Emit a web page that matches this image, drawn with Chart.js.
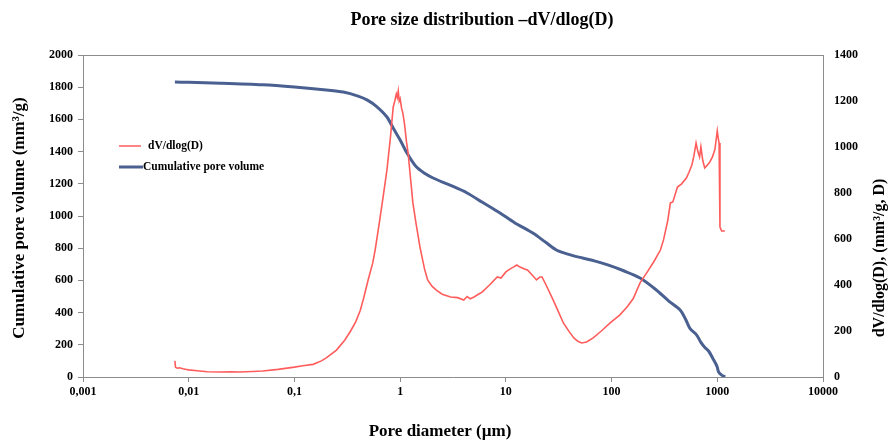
<!DOCTYPE html>
<html>
<head>
<meta charset="utf-8">
<script src="https://cdn.jsdelivr.net/npm/chart.js@4.4.1/dist/chart.umd.min.js"></script>
<style>
  html, body { margin: 0; padding: 0; background: #fff; }
  #wrap { width: 893px; height: 444px; }
</style>
</head>
<body>
<div id="wrap"><canvas id="myChart" width="893" height="444"></canvas></div>
<script>
// x axis ticks (log)
const xTickValues = [0.001, 0.01, 0.1, 1, 10, 100, 1000, 10000];
const xTickLabels = ['0,001', '0,01', '0,1', '1', '10', '100', '1000', '10000'];

// dV/dlog(D) - right axis
const dvDiam = [0.0074, 0.0075, 0.0078, 0.0082, 0.0088, 0.0095, 0.010, 0.012, 0.015, 0.02, 0.025, 0.03, 0.04, 0.05, 0.07,
  0.1, 0.12, 0.15, 0.18, 0.2, 0.25, 0.3, 0.34, 0.38, 0.42, 0.45, 0.5, 0.55, 0.58, 0.64, 0.69, 0.75, 0.81, 0.86, 0.89,
  0.92, 0.94, 0.96, 0.98, 1.0, 1.03, 1.06, 1.1, 1.15, 1.19, 1.25, 1.32, 1.4, 1.54, 1.7, 1.82, 2.0, 2.2, 2.5, 3.0,
  3.5, 4.0, 4.3, 4.6, 5.0, 5.5, 6.0, 7.0, 8.3, 9.0, 10, 11, 12, 12.7, 13.6, 15, 16, 18, 19.5, 21, 22, 24, 28, 31,
  35, 40, 44, 48, 52, 58, 67, 80, 97, 120, 140, 160, 186, 218, 250, 290, 310, 340, 360, 380, 420, 460, 510, 540,
  575, 600, 630, 655, 680, 700, 730, 760, 800, 850, 900, 950, 1000, 1020, 1040, 1060, 1100, 1180];
const dvValues = [70, 42, 38, 40, 36, 33, 31, 27, 23, 22, 23, 22, 24, 26, 33,
  43, 49, 55, 70, 83, 117, 161, 200, 240, 290, 340, 425, 495, 552, 680, 783, 900, 1043, 1174, 1200,
  1230, 1215, 1243, 1200, 1210, 1170, 1148, 1100, 1020, 974, 870, 757, 680, 565, 470, 422, 395, 378, 360, 348,
  345, 335, 350, 340, 348, 360, 370, 400, 435, 430, 457, 470, 480, 487, 478, 470, 465, 440, 422, 435, 435, 400, 335, 290,
  235, 195, 170, 155, 148, 152, 170, 200, 235, 270, 304, 340, 409, 457, 500, 552, 596, 680, 757, 761, 826, 840, 865, 890,
  922, 960, 1017, 980, 957, 1000, 940, 909, 920, 935, 957, 990, 1070, 1040, 1017, 652, 635, 635];

// cumulative pore volume - left axis
const cumDiam = [0.0074, 0.01, 0.02, 0.05, 0.1, 0.2, 0.29, 0.4, 0.49, 0.6, 0.75, 0.87, 1.0, 1.16, 1.4, 1.7, 2.05, 3.0,
  4.3, 6.0, 8.8, 12, 18, 24, 30, 40, 53, 70, 92, 130, 186, 260, 350, 445, 500, 553, 636, 700, 760, 830, 900, 960,
  1000, 1030, 1100, 1186];
const cumValues = [1832, 1830, 1825, 1815, 1801, 1783, 1770, 1745, 1720, 1680, 1615, 1540, 1472, 1391, 1310, 1265, 1236, 1190,
  1143, 1085, 1019, 960, 894, 835, 789, 760, 739, 720, 696, 660, 615, 545, 470, 416, 360, 300, 262, 215, 185, 160, 120, 87,
  60, 31, 12, 0];

const redColor = '#FF5C5C';
const blueColor = '#4A6091';
const serif = '"Liberation Serif", "Times New Roman", serif';

const toPoints = (xs, ys) => xs.map((x, i) => ({ x: x, y: ys[i] }));

// title, axis titles, legend and plot border
const decorPlugin = {
  id: 'decor',
  afterDraw(chart) {
    const ctx = chart.ctx;
    const a = chart.chartArea;
    ctx.save();
    ctx.strokeStyle = '#8c8c8c';
    ctx.lineWidth = 1;
    ctx.beginPath();
    ctx.moveTo(a.left, a.top + 0.5);
    ctx.lineTo(a.right, a.top + 0.5);
    ctx.stroke();

    ctx.fillStyle = '#000';
    ctx.textAlign = 'center';
    ctx.textBaseline = 'middle';
    ctx.font = 'bold 18px ' + serif;
    ctx.fillText('Pore size distribution \u2013dV/dlog(D)', 482, 20);

    ctx.font = 'bold 17px ' + serif;
    ctx.fillText('Pore diameter (\u00b5m)', 440, 432);

    ctx.save();
    ctx.translate(20, 218);
    ctx.rotate(-Math.PI / 2);
    ctx.fillText('Cumulative pore volume (mm\u00b3/g)', 0, 0);
    ctx.restore();

    ctx.save();
    ctx.font = 'bold 16px ' + serif;
    ctx.translate(880, 258);
    ctx.rotate(-Math.PI / 2);
    ctx.fillText('dV/dlog(D), (mm\u00b3/g, D)', 0, 0);
    ctx.restore();

    // legend
    ctx.textAlign = 'left';
    ctx.font = 'bold 11.5px ' + serif;
    const ds = chart.data.datasets;
    const rows = [{ y: 146, x1: 119, x2: 141, tx: 148 }, { y: 167, x1: 119, x2: 143, tx: 143 }];
    rows.forEach((r, i) => {
      ctx.strokeStyle = ds[i].borderColor;
      ctx.lineWidth = i === 0 ? 1.5 : 3;
      ctx.beginPath();
      ctx.moveTo(r.x1, r.y);
      ctx.lineTo(r.x2, r.y);
      ctx.stroke();
      ctx.fillStyle = '#000';
      ctx.fillText(ds[i].label, r.tx, r.y);
    });
    ctx.restore();
  }
};

const ctx = document.getElementById('myChart').getContext('2d');
new Chart(ctx, {
  type: 'line',
  data: {
    datasets: [{
      label: 'dV/dlog(D)',
      data: toPoints(dvDiam, dvValues),
      yAxisID: 'yR',
      borderColor: redColor,
      borderWidth: 1.6,
      pointRadius: 0,
      tension: 0,
      fill: false
    }, {
      label: 'Cumulative pore volume',
      data: toPoints(cumDiam, cumValues),
      yAxisID: 'yL',
      borderColor: blueColor,
      borderWidth: 3,
      pointRadius: 0,
      tension: 0.3,
      fill: false
    }]
  },
  options: {
    responsive: false,
    animation: false,
    layout: { padding: { top: 55, left: 0, right: 0, bottom: 0 } },
    plugins: { legend: { display: false }, title: { display: false }, tooltip: { enabled: false } },
    scales: {
      x: {
        type: 'logarithmic',
        min: 0.001,
        max: 10000,
        afterBuildTicks: (scale) => { scale.ticks = xTickValues.map(v => ({ value: v })); },
        afterFit: (scale) => { scale.height = 67; },
        ticks: {
          autoSkip: false,
          maxRotation: 0,
          padding: 3,
          color: '#000',
          font: { family: serif, size: 12, weight: 'bold' },
          callback: (v, i) => xTickLabels[i]
        },
        grid: { drawOnChartArea: false, drawTicks: true, tickLength: 5, color: '#8c8c8c' },
        border: { color: '#8c8c8c' }
      },
      yL: {
        position: 'left',
        min: 0,
        max: 2000,
        afterFit: (scale) => { scale.width = 83; },
        ticks: {
          stepSize: 200, padding: 5, color: '#000',
          font: { family: serif, size: 12, weight: 'bold' },
          callback: (v) => String(v)
        },
        grid: { drawOnChartArea: false, drawTicks: true, tickLength: 5, color: '#8c8c8c' },
        border: { color: '#8c8c8c' }
      },
      yR: {
        position: 'right',
        min: 0,
        max: 1400,
        afterFit: (scale) => { scale.width = 70; },
        ticks: {
          stepSize: 200, padding: 11, color: '#000',
          font: { family: serif, size: 12, weight: 'bold' },
          callback: (v) => String(v)
        },
        grid: { drawOnChartArea: false, drawTicks: false, color: '#8c8c8c' },
        border: { color: '#8c8c8c' }
      }
    }
  },
  plugins: [decorPlugin]
});
</script>
</body>
</html>
